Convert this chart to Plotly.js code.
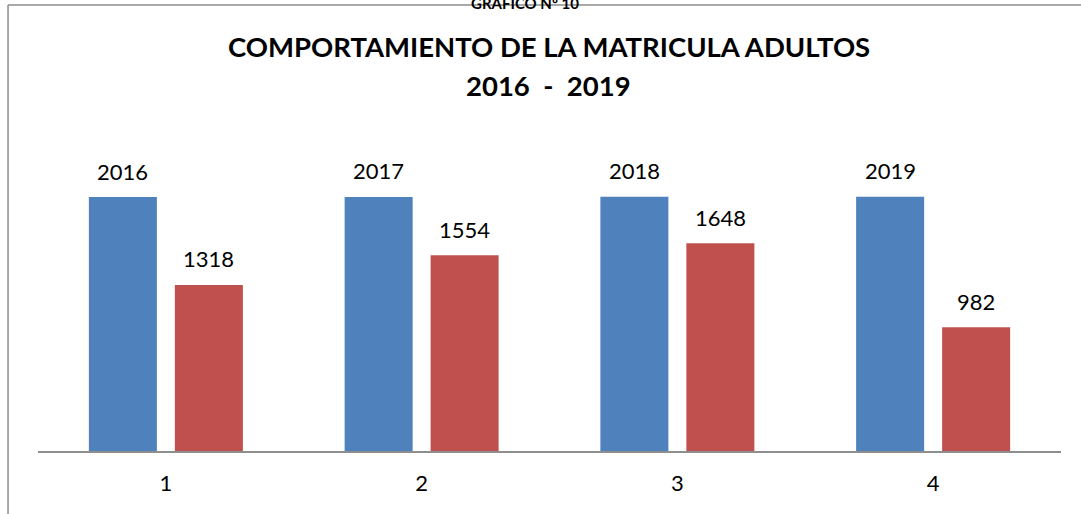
<!DOCTYPE html>
<html>
<head>
<meta charset="utf-8">
<script src="https://cdn.plot.ly/plotly-3.0.1.min.js"></script>
<style>html,body{margin:0;padding:0;background:#fff;}#chart{width:1081px;height:514px;}</style>
</head>
<body>
<div id="chart"></div>
<script>
const categories = ['1', '2', '3', '4'];
const yearValues = [2016, 2017, 2018, 2019];
const enrollment = [1318, 1554, 1648, 982];
const titleLine1 = 'COMPORTAMIENTO DE LA MATRICULA ADULTOS';
const titleLine2 = '2016  -  2019';
const headerText = 'GRAFICO Nº 10';

const BARGAP = 0.3275, BARGROUPGAP = 0.209;
const slotOffset = (1 - BARGAP) / 4;
const labelFont = {family: 'Lato, "Open Sans", sans-serif', size: 22, color: '#000'};
const titleFont = {family: 'Lato, sans-serif', size: 27.5, color: '#000'};

const traces = [
  {type: 'bar', x: categories, y: yearValues, marker: {color: '#4F81BD'}, hoverinfo: 'none'},
  {type: 'bar', x: categories, y: enrollment, marker: {color: '#C0504D'}, hoverinfo: 'none'}
];

const annotations = [];
categories.forEach((c, i) => {
  annotations.push({xref: 'x', yref: 'y', x: i - slotOffset, y: yearValues[i], text: String(yearValues[i]),
    showarrow: false, yshift: 26, font: labelFont});
  annotations.push({xref: 'x', yref: 'y', x: i + slotOffset, y: enrollment[i], text: String(enrollment[i]),
    showarrow: false, yshift: 26, font: labelFont});
});
annotations.push({xref: 'paper', yref: 'paper', x: 0.476, y: 1.2707, yanchor: 'bottom', yshift: -9,
  text: '<b>' + headerText + '</b>', showarrow: false, font: {family: 'Lato, sans-serif', size: 15, color: '#000'}});
annotations.push({xref: 'paper', yref: 'paper', x: 0.4995, y: 1.151, yanchor: 'middle',
  text: '<b>' + titleLine1 + '</b>', showarrow: false, font: titleFont});
annotations.push({xref: 'paper', yref: 'paper', x: 0.4995, y: 1.040, yanchor: 'middle',
  text: '<b>' + titleLine2 + '</b>', showarrow: false, font: titleFont});

const layout = {
  width: 1081, height: 514,
  margin: {l: 38, r: 20, t: 100, b: 63},
  paper_bgcolor: '#fff', plot_bgcolor: '#fff',
  showlegend: false,
  barmode: 'group', bargap: BARGAP, bargroupgap: BARGROUPGAP,
  xaxis: {type: 'category', showline: true, linecolor: '#8e8e8e', linewidth: 2, ticks: '',
    ticklabelstandoff: 12,
    tickfont: labelFont, showgrid: false, zeroline: false, fixedrange: true},
  yaxis: {range: [0, 2786], visible: false, showgrid: false, zeroline: false, fixedrange: true},
  annotations: annotations,
  shapes: [
    {type: 'line', xref: 'paper', yref: 'paper', x0: -0.0293, x1: 1.0196, y0: 1.2707, y1: 1.2707,
      line: {color: '#8c8c8c', width: 1.5}},
    {type: 'line', xref: 'paper', yref: 'paper', x0: -0.0293, x1: -0.0293, y0: 1.2707, y1: -0.1795,
      line: {color: '#8c8c8c', width: 1.5}}
  ]
};

Plotly.newPlot('chart', traces, layout, {displayModeBar: false, staticPlot: true});
</script>
</body>
</html>
